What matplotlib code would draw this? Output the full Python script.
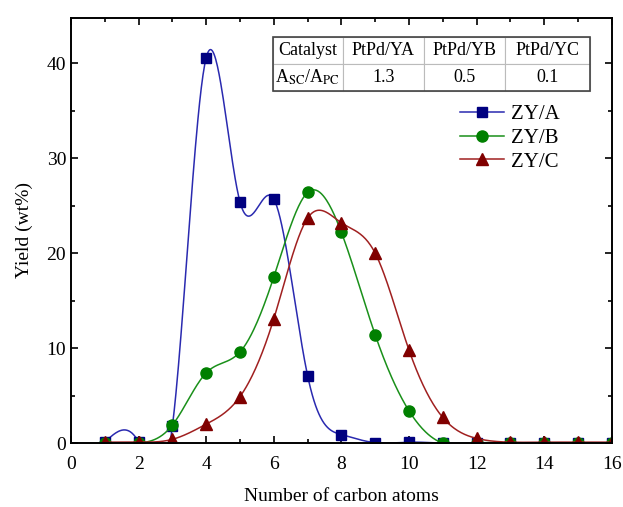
import matplotlib
matplotlib.use('Agg')
import matplotlib.pyplot as plt
import numpy as np

plt.rcParams['font.family'] = ['Liberation Serif', 'DejaVu Serif']
plt.rcParams['mathtext.fontset'] = 'stix'

carbon = np.arange(1, 17)
zy_a = [0.1, 0.1, 1.8, 40.6, 25.4, 25.7, 7.1, 0.9, 0.05, 0.1, 0, 0, 0, 0, 0, 0]
zy_b = [0, 0, 1.9, 7.4, 9.6, 17.5, 26.4, 22.2, 11.4, 3.4, 0, 0, 0, 0, 0, 0]
zy_c = [0.1, 0.1, 0.4, 2.0, 4.9, 13.1, 23.7, 23.2, 20.0, 9.8, 2.7, 0.5, 0.1, 0.1, 0.1, 0.1]

table_cols = ['Catalyst', 'PtPd/YA', 'PtPd/YB', 'PtPd/YC']
table_row = [r'A$_{\rm SC}$/A$_{\rm PC}$', '1.3', '0.5', '0.1']


def spline(x, y, n=600):
    # natural cubic spline, like Origin's spline connect
    x = np.asarray(x, float)
    y = np.asarray(y, float)
    k = len(x)
    h = np.diff(x)
    A = np.zeros((k, k))
    r = np.zeros(k)
    A[0, 0] = 1
    A[-1, -1] = 1
    for i in range(1, k - 1):
        A[i, i - 1] = h[i - 1]
        A[i, i] = 2 * (h[i - 1] + h[i])
        A[i, i + 1] = h[i]
        r[i] = 6 * ((y[i + 1] - y[i]) / h[i] - (y[i] - y[i - 1]) / h[i - 1])
    m = np.linalg.solve(A, r)
    xs = np.linspace(x[0], x[-1], n)
    idx = np.clip(np.searchsorted(x, xs) - 1, 0, k - 2)
    x0, x1 = x[idx], x[idx + 1]
    hh = x1 - x0
    t0, t1 = x1 - xs, xs - x0
    ys = (m[idx] * t0**3 + m[idx + 1] * t1**3) / (6 * hh) \
        + (y[idx] / hh - m[idx] * hh / 6) * t0 \
        + (y[idx + 1] / hh - m[idx + 1] * hh / 6) * t1
    return xs, ys


fig = plt.figure(figsize=(6.23, 5.07), dpi=100)
ax = fig.add_axes([0.114, 0.126, 0.868, 0.839])

series = [
    ('ZY/A', zy_a, '#000080', '#2a2ab0', 's', 7),
    ('ZY/B', zy_b, '#008000', '#1a901a', 'o', 8),
    ('ZY/C', zy_c, '#800000', '#a02020', '^', 9),
]
handles = []
for name, vals, mc, lc, mk, ms in series:
    xs, ys = spline(carbon, vals)
    ax.plot(xs, ys, color=lc, lw=1.1)
    ax.plot(carbon, vals, linestyle='none', marker=mk, ms=ms, color=mc)
    h, = ax.plot([], [], color=lc, lw=1.1, marker=mk, ms=ms, mfc=mc, mec=mc)
    handles.append(h)

ax.set_xlim(0, 16)
ax.set_ylim(0, 44.8)
ax.set_xticks(range(0, 17, 2))
ax.set_xticks(range(0, 17, 1), minor=True)
ax.set_yticks(range(0, 41, 10))
ax.set_yticks(range(0, 45, 5), minor=True)
ax.tick_params(which='both', direction='in', top=True, right=True, labelsize=14, width=1.2)
ax.tick_params(which='major', length=5)
ax.tick_params(which='minor', length=3)
ax.tick_params(axis='x', pad=9)
for s in ax.spines.values():
    s.set_linewidth(1.4)
ax.set_xlabel('Number of carbon atoms', fontsize=14, labelpad=11)
ax.set_ylabel('Yield (wt%)', fontsize=14, labelpad=10)

ax.legend(handles, [s[0] for s in series], loc='upper left', bbox_to_anchor=(0.685, 0.84),
          frameon=False, fontsize=15, handlelength=2.1, handletextpad=0.35, labelspacing=0.2)

tb = ax.table(cellText=[table_cols, table_row], cellLoc='center',
              colWidths=[0.7, 0.81, 0.81, 0.85],
              bbox=[0.373, 0.828, 0.586, 0.127])
tb.auto_set_font_size(False)
for (r, c), cell in tb.get_celld().items():
    cell.set_edgecolor('#bbbbbb')
    cell.set_linewidth(0.8)
    cell.get_text().set_fontsize(13)
frame = plt.Rectangle((0.373, 0.828), 0.586, 0.127, transform=ax.transAxes,
                      fill=False, edgecolor='#444444', lw=1.2, zorder=10)
ax.add_patch(frame)

fig.savefig('out.png', dpi=100)
